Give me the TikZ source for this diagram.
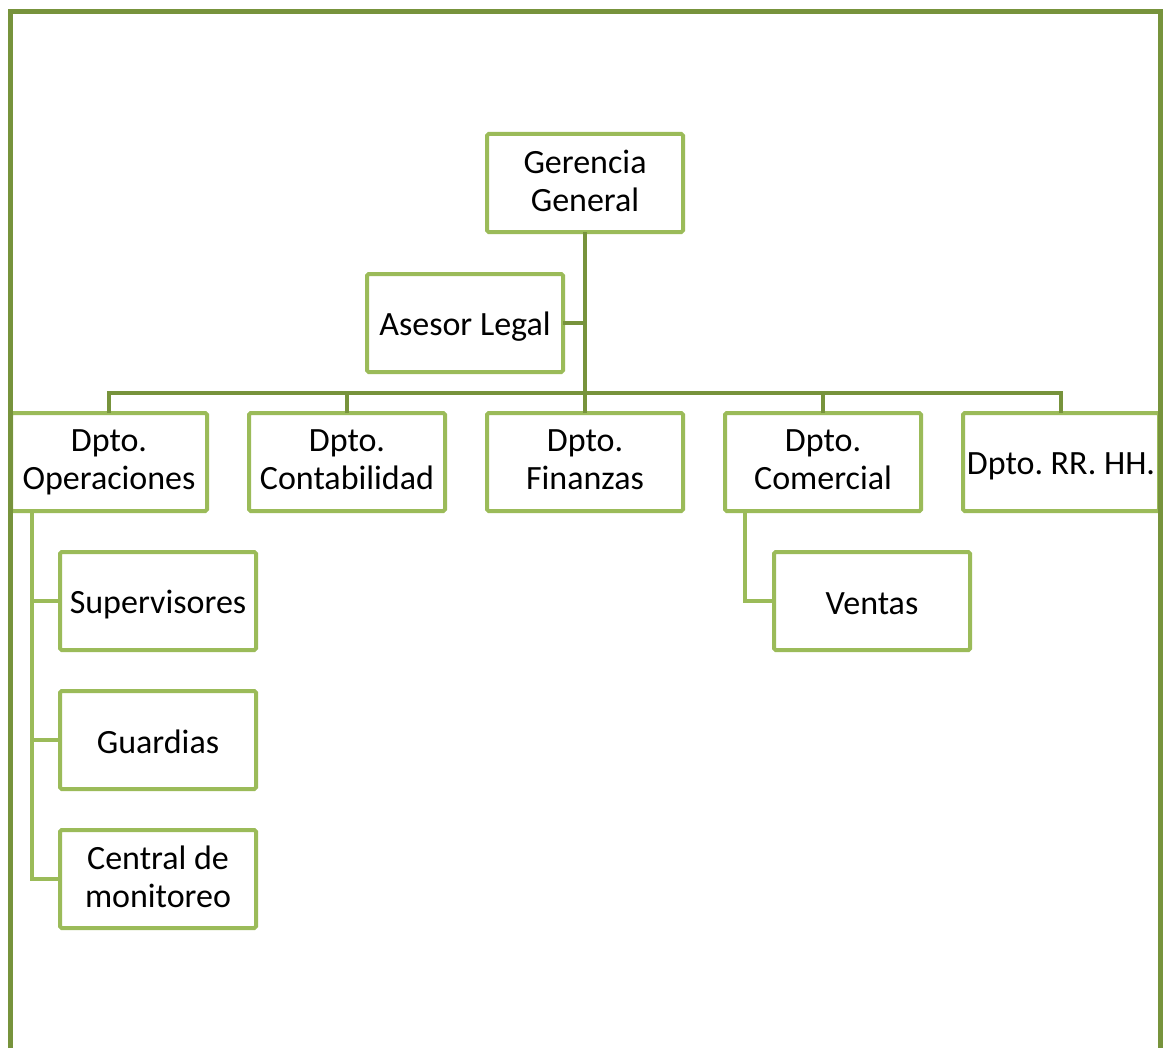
\documentclass[tikz,border=0pt]{standalone}
\usepackage{fontspec}
\setmainfont{Carlito}
\usetikzlibrary{positioning}
\definecolor{boxgreen}{HTML}{9BBB59}
\definecolor{linegreen}{HTML}{77933C}
\newcommand\unitstrut{\vrule width 0pt height 15pt depth 2pt}
\frenchspacing
\tikzset{
    unit/.style={rectangle, draw=boxgreen, fill=white, line width=2pt, rounded corners=0.8pt, minimum width=98pt, minimum height=49pt, inner sep=1pt, outer sep=0pt, align=center, font=\fontsize{17}{19}\selectfont, execute at begin node=\unitstrut, execute at end node=\unitstrut},
    toplink/.style={draw=linegreen, line width=2pt},
    sublink/.style={draw=boxgreen, line width=2pt},
    frame/.style={draw=linegreen, line width=2.5pt},
}
\begin{document}
\begin{tikzpicture}[x=0.5pt, y=-0.5pt]
                        \useasboundingbox (0,0) rectangle (1165,1048);
                        \node [unit] (ger) at (585,183) {Gerencia\\General};
                        \node [unit] (ase) [below=21pt of ger, xshift=-60pt] {Asesor Legal};
                        \node [unit] (fin) [below=20.5pt of ase, xshift=60pt] {Dpto.\\Finanzas};
                        \node [unit] (cont) [left=21pt of fin] {Dpto.\\Contabilidad};
                        \node [unit] (ope) [left=21pt of cont] {Dpto.\\Operaciones};
                        \node [unit] (com) [right=21pt of fin] {Dpto.\\Comercial};
                        \node [unit] (rrhh) [right=21pt of com] {Dpto. RR. HH.};
                        \node [unit] (sup) [below=20.5pt of ope, xshift=24.5pt] {Supervisores};
                        \node [unit] (gua) [below=20.5pt of sup] {Guardias};
                        \node [unit] (cen) [below=20.5pt of gua] {Central de\\monitoreo};
                        \node [unit] (ven) [below=20.5pt of com, xshift=24.5pt] {Ventas};
                        \coordinate (opeline) at ([xshift=10.5pt]ope.south west);
                        \coordinate (comline) at ([xshift=10pt]com.south west);
                        \draw[toplink] (ger.south) -- (fin.north);
                        \draw[toplink] (ase.east) -- (ase.east -| ger.south);
                        \draw[toplink] (ope.north) -- ++(0,10pt) -| (rrhh.north);
                        \draw[toplink] (cont.north) -- ++(0,10pt);
                        \draw[toplink] (com.north) -- ++(0,10pt);
                        \draw[sublink] (opeline) |- (cen.west);
                        \draw[sublink] (sup.west) -- (sup.west -| opeline);
                        \draw[sublink] (gua.west) -- (gua.west -| opeline);
                        \draw[sublink] (comline) |- (ven.west);
                        \draw[frame] (10,1048) -- (10,12) -- (1160,12) -- (1160,1048);
                    \end{tikzpicture}
\end{document}
